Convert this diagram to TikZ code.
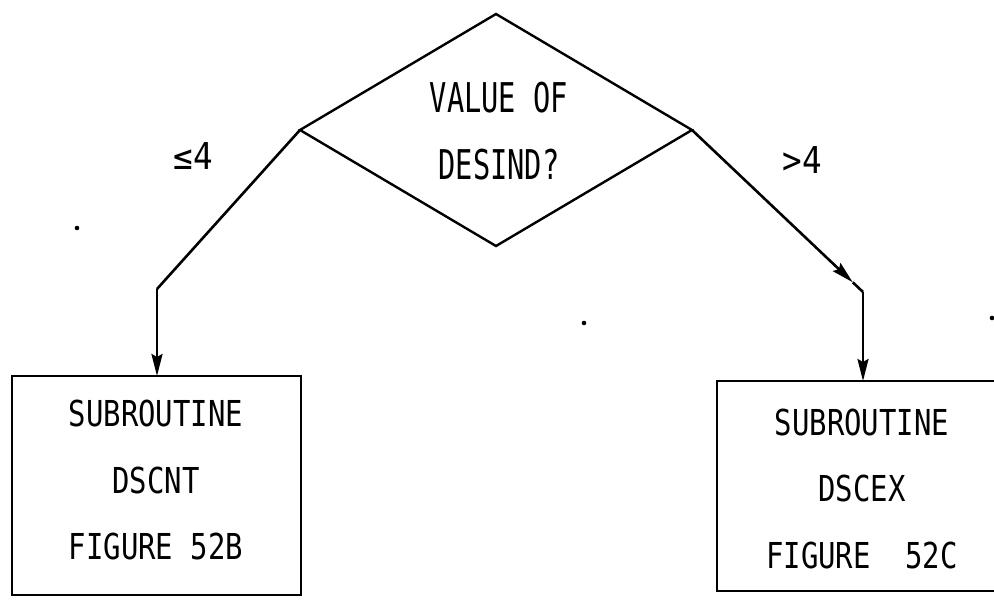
\documentclass[tikz,border=0pt]{standalone}
\usepackage{fontspec}
\usetikzlibrary{shapes.geometric,arrows.meta,calc}
\newfontfamily\boxfont[FakeStretch=0.81]{DejaVu Sans Mono}
\newfontfamily\diafont[FakeStretch=0.70]{DejaVu Sans Mono}
\newfontfamily\labfont[FakeStretch=0.88]{DejaVu Sans Mono}
\tikzset{
  line/.style={line width=2.6pt, line join=miter},
  arr/.style={line, -{Stealth[length=22pt,width=11pt,inset=3pt]}},
  decision/.style={diamond, draw, line width=2.4pt, inner sep=0pt, outer sep=0pt,
    minimum width=392pt, minimum height=232pt},
  procbox/.style={rectangle, draw, line width=2.6pt, inner sep=0pt, outer sep=0pt},
  boxtext/.style={align=center, inner sep=0pt, font=\boxfont\fontsize{35.7}{66.5}\selectfont},
  diatext/.style={align=center, inner sep=0pt, font=\diafont\fontsize{41}{67}\selectfont},
  labtext/.style={inner sep=0pt, font=\labfont\fontsize{37}{40}\selectfont},
  speck/.style={fill=black, draw=none}
}
\begin{document}
\begin{tikzpicture}[x=1pt,y=-1pt]
  \useasboundingbox (0,0) rectangle (994,602);
  \clip (0,0) rectangle (994,602);
  % decision
  \node[decision] (dec) at (496,130) {};
  \node[diatext] (dectext) at (499,131.5) {VALUE OF\\DESIND?};
  % boxes
  \node[procbox, minimum width=289pt, minimum height=219pt] (boxL) at (156.5,485.5) {};
  \node[boxtext] (boxLtext) at (156,480.5) {SUBROUTINE\\DSCNT\\FIGURE 52B};
  \node[procbox, minimum width=313pt, minimum height=210pt] (boxR) at (873.5,486) {};
  \node[boxtext] (boxRtext) at (862,488.5) {SUBROUTINE\\DSCEX\\FIGURE~~52C};
  % bends
  \coordinate (lbend) at (157,289);
  \coordinate (rbend) at (863,292);
  \coordinate (rmid) at ($(dec.east)!0.94!(rbend)$);
  % connectors
  \draw[line] (dec.west) -- (lbend);
  \draw[arr] (lbend) -- (lbend |- boxL.north);
  \draw[arr] (dec.east) -- (rmid);
  \draw[line] (rmid) -- (rbend);
  \draw[arr] (rbend) -- (rbend |- boxR.north);
  % labels
  \node[labtext] (le) at (193,156) {≤4};
  \node[labtext] (gt) at (802,160) {>4};
  % specks
  \fill[speck] (77,228) circle (2.3pt);
  \fill[speck] (584,323) circle (2.3pt);
  \fill[speck] (992,318) circle (2.3pt);
\end{tikzpicture}
\end{document}
